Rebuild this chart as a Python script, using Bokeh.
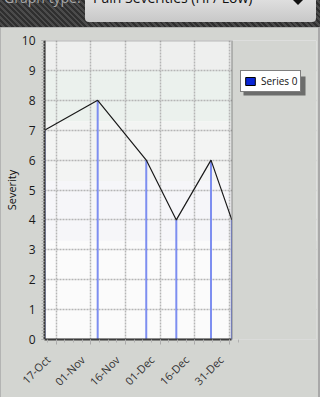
import datetime as dt
import math
from bokeh.plotting import figure
from bokeh.models import (Range1d, FixedTicker, DatetimeTickFormatter, Legend, LegendItem,
                          BoxAnnotation, Div)
from bokeh.layouts import column
from bokeh.embed import file_html
from bokeh.resources import INLINE

# ---- data ----
dates = [dt.datetime(2011, 10, 12), dt.datetime(2011, 11, 4), dt.datetime(2011, 11, 25),
         dt.datetime(2011, 12, 8), dt.datetime(2011, 12, 23), dt.datetime(2012, 1, 1)]
highs = [7, 8, 6, 4, 6, 4]
lows = [0, 0, 0, 0, 0, 0]
tick_dates = [dt.datetime(2011, 10, 17), dt.datetime(2011, 11, 1), dt.datetime(2011, 11, 16),
              dt.datetime(2011, 12, 1), dt.datetime(2011, 12, 16), dt.datetime(2011, 12, 31)]
tick_labels = ["17-Oct", "01-Nov", "16-Nov", "01-Dec", "16-Dec", "31-Dec"]
y_ticks = list(range(0, 11))
series_name = "Series 0"
y_label = "Severity"
graph_type_label = "Graph type:"
graph_type_value = "Pain Severities (Hi / Low)"

FONT = "Open Sans"
PANEL = "#d3d5d1"
BORDER = "#3c3c3c"


def ms(d):
    return (d - dt.datetime(1970, 1, 1)).total_seconds() * 1000.0


date_ms = [ms(d) for d in dates]
x0, x1 = date_ms[0], date_ms[-1]
# frame spans canvas x 43..316; data area ends at canvas x 231 (the rest is panel)
FRAME_L, DATA_R, FRAME_R = 43, 231, 316
x_end = x0 + (x1 - x0) * (FRAME_R - FRAME_L) / (DATA_R - FRAME_L)

tick_ms = [ms(d) for d in tick_dates]
step = (tick_ms[1] - tick_ms[0]) / 4.0
minor_ms = [tick_ms[0] + k * step for k in range(-2, 4 * (len(tick_ms) - 1) + 2)]

p = figure(width=318, height=370,
           x_range=Range1d(x0, x_end), y_range=Range1d(0, 10),
           output_backend="svg", toolbar_location=None,
           min_border_left=FRAME_L, min_border_right=318 - FRAME_R,
           min_border_top=13, min_border_bottom=58)
p.background_fill_color = "#fbfbfb"
p.border_fill_color = PANEL
p.outline_line_color = None

# background bands (styling only)
for b, t, c in [(9, 10, "#eeefee"), (7.3, 9, "#ebf1ed"), (5.3, 7.3, "#f3f4f3"), (3.3, 5.3, "#f6f6f9")]:
    p.add_layout(BoxAnnotation(bottom=b, top=t, fill_color=c, fill_alpha=1,
                               line_color=None, level="image"))

# grids
for g in (p.xgrid, p.ygrid):
    g.grid_line_color = "#b5b5b5"
    g.grid_line_dash = "2 1"
    g.grid_line_width = 1.5

# axes
p.xaxis.ticker = FixedTicker(ticks=tick_ms, minor_ticks=minor_ms)
p.xaxis.formatter = DatetimeTickFormatter(
    microseconds="%d-%b", milliseconds="%d-%b", seconds="%d-%b", minsec="%d-%b",
    minutes="%d-%b", hourmin="%d-%b", hours="%d-%b", days="%d-%b", months="%d-%b", years="%d-%b")
p.xaxis.major_label_overrides = {int(t): lab + "\u00a0" * 4 for t, lab in zip(tick_ms, tick_labels)}
p.xaxis.major_label_orientation = math.pi / 4
p.xaxis.bounds = (x0, x1)
p.yaxis.ticker = FixedTicker(ticks=y_ticks, minor_ticks=[i / 10 for i in range(0, 101)])
p.yaxis.axis_label = y_label

for ax in (p.xaxis[0], p.yaxis[0]):
    ax.axis_line_color = BORDER
    ax.axis_line_width = 2
    ax.major_tick_line_color = "#a8a8a8"
    ax.minor_tick_line_color = "#b0b0b0"
    ax.major_tick_in = 0
    ax.minor_tick_in = 0
    ax.major_label_text_font = FONT
    ax.axis_label_text_font = FONT
    ax.axis_label_text_font_style = "normal"
    ax.axis_label_text_color = "#111111"

p.xaxis.major_tick_out = 5
p.xaxis.minor_tick_out = 3
p.xaxis.major_label_text_font_size = "11px"
p.xaxis.major_label_text_color = "#333333"
p.xaxis.major_label_standoff = 5
p.yaxis.major_tick_out = 3
p.yaxis.minor_tick_out = 3
p.yaxis.major_label_text_font_size = "12px"
p.yaxis.major_label_text_color = "#1a1a1a"
p.yaxis.major_label_standoff = 6
p.yaxis.axis_label_text_font_size = "11px"
p.yaxis.axis_label_standoff = 0

# data marks
p.segment(x0=date_ms, y0=lows, x1=date_ms, y1=highs, line_color="#7d8ef0", line_width=2)
p.line(x=date_ms, y=highs, line_color="#1a1a1a", line_width=1.2)
# series swatch renderer (zero-height boxes at the lows, hidden under the x axis)
legend_r = p.quad(left=date_ms, right=date_ms, top=lows, bottom=lows,
                  fill_color="#0a26d6", line_color="black", line_width=1)

# panel area right of the data area + data-area border
p.add_layout(BoxAnnotation(left=x1, fill_color=PANEL, fill_alpha=1, line_color=None))
p.add_layout(BoxAnnotation(left=x0, right=x1, bottom=0, top=10, fill_color=None,
                           line_color=BORDER, line_width=2))

# legend shadow + legend
p.add_layout(BoxAnnotation(left=243, right=305, top=49, bottom=68,
                           left_units="canvas", right_units="canvas", top_units="canvas",
                           bottom_units="canvas", fill_color="#4a4a4a", fill_alpha=0.75,
                           line_color=None))
legend = Legend(items=[LegendItem(label=series_name, renderers=[legend_r])],
                location=(196, 247), border_line_color="black", border_line_width=1,
                background_fill_color="white", background_fill_alpha=1,
                label_text_font=FONT, label_text_font_size="10px", label_text_color="#111111",
                glyph_width=12, glyph_height=10, label_height=11, label_standoff=5,
                padding=3, margin=0, spacing=0)
p.add_layout(legend)

top_html = f"""
<div style="position:relative;width:320px;height:27px;overflow:hidden;
 background:repeating-linear-gradient(45deg,#2f2f2f 0px,#2f2f2f 2px,#4b4b4b 2px,#4b4b4b 4px);
 font-family:'Open Sans','Roboto',sans-serif;">
 <div style="position:absolute;left:4px;top:-12px;font-size:14px;line-height:20px;color:#a6a6a6;white-space:nowrap;">{graph_type_label}</div>
 <div style="position:absolute;left:85px;top:-6px;width:231px;height:28px;border-radius:4px;
   background:linear-gradient(#e4e4e4,#c8c8c8);"></div>
 <div style="position:absolute;left:93px;top:-12px;font-size:14px;line-height:20px;color:#111;white-space:nowrap;">{graph_type_value}</div>
 <div style="position:absolute;left:292px;top:-1px;width:0;height:0;border-left:6px solid transparent;
   border-right:6px solid transparent;border-top:6px solid #111;"></div>
</div>
"""
top = Div(text=top_html, width=320, height=27, margin=0)

layout = column(top, p, spacing=0, width=320, height=397, sizing_mode="fixed",
                styles={"background-color": "#a9a9a9"})

open("out.html", "w").write(file_html(layout, INLINE))
